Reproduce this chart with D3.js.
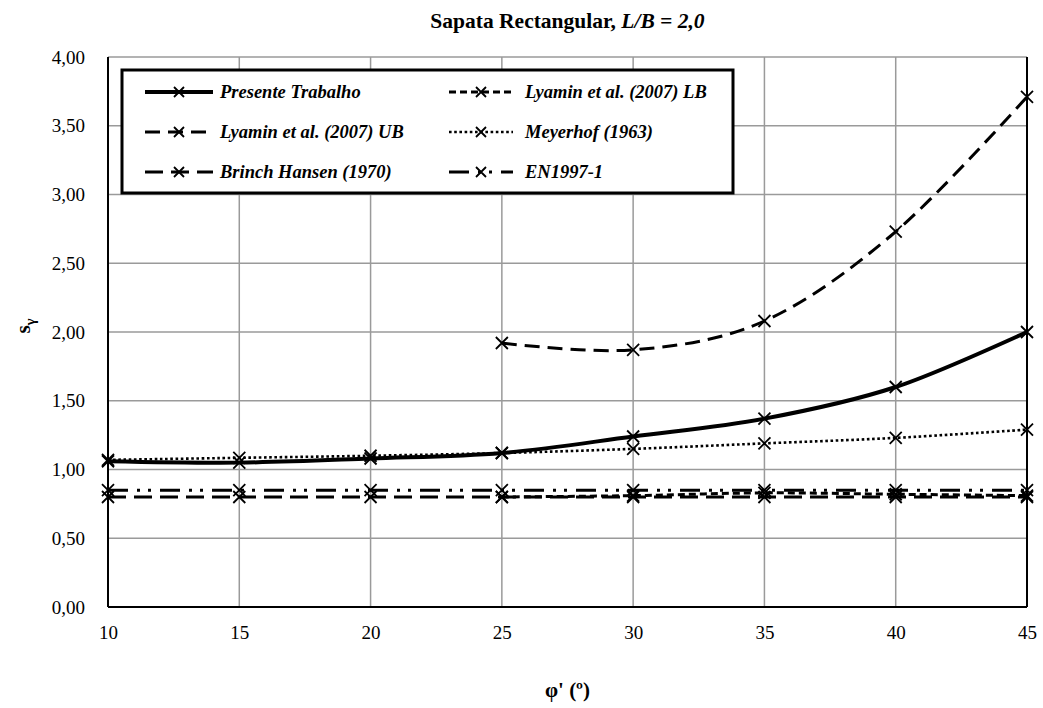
<!DOCTYPE html>
<html>
<head>
<meta charset="utf-8">
<script src="https://cdn.jsdelivr.net/npm/d3@7"></script>
<style>
  html, body { margin: 0; padding: 0; background: #fff; }
  svg { display: block; }
  svg text { font-family: "Liberation Serif", "Times New Roman", Times, "DejaVu Serif", serif; fill: #000; }
</style>
</head>
<body>
<svg id="chart" width="1043" height="708"></svg>
<script>
// Shape factor s_gamma vs friction angle, rectangular footing L/B = 2
const phi = [10, 15, 20, 25, 30, 35, 40, 45];
const presenteTrabalho = [1.06, 1.05, 1.08, 1.12, 1.24, 1.37, 1.60, 2.00];
const lyaminLB = [null, null, null, 0.80, 0.81, 0.83, 0.82, 0.81];
const lyaminUB = [null, null, null, 1.92, 1.87, 2.08, 2.73, 3.71];
const meyerhof = [1.07, 1.085, 1.10, 1.12, 1.15, 1.19, 1.23, 1.29];
const brinchHansen = [0.80, 0.80, 0.80, 0.80, 0.80, 0.80, 0.80, 0.80];
const en1997 = [0.85, 0.85, 0.85, 0.85, 0.85, 0.85, 0.85, 0.85];

const xTicks = [10, 15, 20, 25, 30, 35, 40, 45];
const yTicks = [0, 0.5, 1, 1.5, 2, 2.5, 3, 3.5, 4];

const series = [
  { name: "Presente Trabalho", values: presenteTrabalho, width: 4, dash: null, smooth: true },
  { name: "Lyamin et al. (2007) LB", values: lyaminLB, width: 3, dash: "7,4", smooth: true },
  { name: "Lyamin et al. (2007) UB", values: lyaminUB, width: 3, dash: "15,8", smooth: true },
  { name: "Meyerhof (1963)", values: meyerhof, width: 2.6, dash: "2.6,2.6", smooth: true },
  { name: "Brinch Hansen (1970)", values: brinchHansen, width: 3, dash: "18,8", smooth: false },
  { name: "EN1997-1", values: en1997, width: 3, dash: "20,9,3,8,3,9", smooth: false }
];

const svg = d3.select("#chart");
const plotL = 108, plotR = 1027, plotT = 57, plotB = 607;

const x = d3.scaleLinear().domain([10, 45]).range([plotL, plotR]);
const y = d3.scaleLinear().domain([0, 4]).range([plotB, plotT]);

// grid
const grid = svg.append("g");
grid.selectAll("line.v").data(xTicks).enter().append("line")
  .attr("x1", d => x(d)).attr("x2", d => x(d))
  .attr("y1", plotT).attr("y2", plotB)
  .attr("stroke", "#9a9a9a").attr("stroke-width", 1.5);
grid.selectAll("line.h").data(yTicks).enter().append("line")
  .attr("x1", plotL).attr("x2", plotR)
  .attr("y1", d => y(d)).attr("y2", d => y(d))
  .attr("stroke", "#9a9a9a").attr("stroke-width", 1.5);

// axes
const xAxis = d3.axisBottom(x).tickValues(xTicks).tickSize(0).tickPadding(19)
  .tickFormat(d3.format("d"));
const yAxis = d3.axisLeft(y).tickValues(yTicks).tickSize(0).tickPadding(23)
  .tickFormat(d => d3.format(".2f")(d).replace(".", ","));

const gx = svg.append("g").attr("transform", `translate(0,${plotB})`).call(xAxis);
const gy = svg.append("g").attr("transform", `translate(${plotL},0)`).call(yAxis);
[gx, gy].forEach(g => {
  g.select(".domain").remove();
  g.attr("font-family", null);
  g.selectAll("text").attr("font-size", 19);
});

// plot frame
svg.append("line").attr("x1", plotL).attr("x2", plotL).attr("y1", plotT).attr("y2", plotB)
  .attr("stroke", "#000").attr("stroke-width", 2);
svg.append("line").attr("x1", plotL).attr("x2", plotR).attr("y1", plotB).attr("y2", plotB)
  .attr("stroke", "#000").attr("stroke-width", 2);
svg.append("line").attr("x1", plotR).attr("x2", plotR).attr("y1", plotT).attr("y2", plotB)
  .attr("stroke", "#000").attr("stroke-width", 2);

// series
const plot = svg.append("g");
function xMark(g, cx, cy, r) {
  g.append("path")
    .attr("d", `M${cx - r},${cy - r}L${cx + r},${cy + r}M${cx - r},${cy + r}L${cx + r},${cy - r}`)
    .attr("stroke", "#000").attr("stroke-width", 1.8).attr("fill", "none");
}

series.forEach(s => {
  const pts = phi.map((p, i) => [p, s.values[i]]).filter(d => d[1] != null);
  const line = d3.line()
    .x(d => x(d[0])).y(d => y(d[1]))
    .curve(s.smooth ? d3.curveCardinal.tension(0) : d3.curveLinear);
  plot.append("path").datum(pts)
    .attr("d", line)
    .attr("fill", "none")
    .attr("stroke", "#000")
    .attr("stroke-width", s.width)
    .attr("stroke-dasharray", s.dash)
    .attr("stroke-linejoin", "round");
  pts.forEach(d => xMark(plot, x(d[0]), y(d[1]), 6));
});

// legend
const leg = svg.append("g");
leg.append("rect").attr("x", 122).attr("y", 70).attr("width", 611).attr("height", 123)
  .attr("fill", "#fff").attr("stroke", "#000").attr("stroke-width", 3);
const cols = [{ x1: 145, x2: 213, tx: 220 }, { x1: 449, x2: 513, tx: 525 }];
const rows = [92, 132, 172];
series.forEach((s, i) => {
  const c = cols[i % 2], ry = rows[Math.floor(i / 2)];
  leg.append("line").attr("x1", c.x1).attr("x2", c.x2).attr("y1", ry).attr("y2", ry)
    .attr("stroke", "#000").attr("stroke-width", s.width)
    .attr("stroke-dasharray", s.dash);
  xMark(leg, (c.x1 + c.x2) / 2, ry, 5);
  leg.append("text").attr("x", c.tx).attr("y", ry).attr("dy", "0.35em")
    .attr("font-size", 18.5).attr("font-weight", "bold").attr("font-style", "italic")
    .text(s.name);
});

// title
const title = svg.append("text").attr("x", (plotL + plotR) / 2).attr("y", 28)
  .attr("text-anchor", "middle").attr("font-size", 21.5).attr("font-weight", "bold");
title.append("tspan").text("Sapata Rectangular, ");
title.append("tspan").attr("font-style", "italic").text("L/B = 2,0");

// axis titles
svg.append("text").attr("x", (plotL + plotR) / 2).attr("y", 697)
  .attr("text-anchor", "middle").attr("font-size", 21).attr("font-weight", "bold")
  .text("\u03c6' (\u00ba)");

const yl = svg.append("text").attr("transform", `translate(30,${(plotT + plotB) / 2 - 6}) rotate(-90)`)
  .attr("text-anchor", "middle").attr("font-size", 21).attr("font-weight", "bold");
yl.append("tspan").text("s");
yl.append("tspan").attr("font-size", 15).attr("dy", 5).text("\u03b3");
</script>
</body>
</html>
